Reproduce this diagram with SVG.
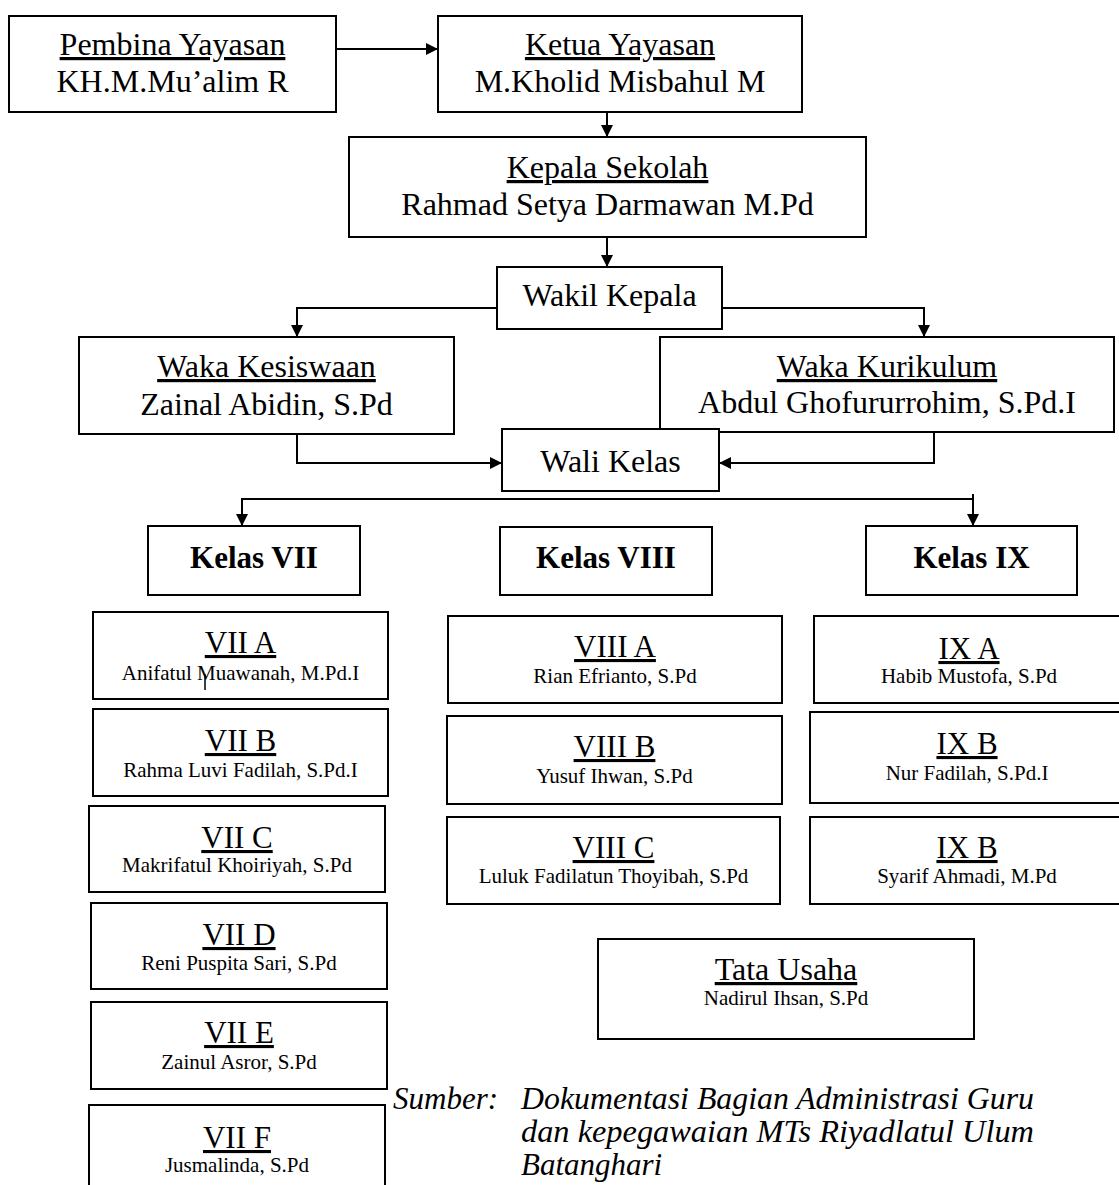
<svg xmlns="http://www.w3.org/2000/svg" width="1119" height="1185" viewBox="0 0 1119 1185">
<style>
text{font-family:"Liberation Serif","Times New Roman",serif;fill:#000;text-anchor:middle}
.box{fill:#fff;stroke:#000;stroke-width:2}
.t32{font-size:32px}
.h31{font-size:31px}
.u{text-decoration:underline}
.n21{font-size:21px}
.b{font-size:31px;font-weight:bold}
.c{fill:none;stroke:#000;stroke-width:2}
.src{font-size:31px;font-style:italic;text-anchor:start}
</style>
<defs>
<marker id="ah" viewBox="0 0 10 10" refX="10" refY="5" markerWidth="13" markerHeight="12" markerUnits="userSpaceOnUse" orient="auto">
<path d="M0,0 L10,5 L0,10 z" fill="#000"/>
</marker>
</defs>
<rect width="1119" height="1185" fill="#fff"/>

<g id="connectors">
<line class="c" x1="336" y1="49" x2="438" y2="49" marker-end="url(#ah)"/>
<line class="c" x1="607" y1="112" x2="607" y2="137" marker-end="url(#ah)"/>
<line class="c" x1="607" y1="237" x2="607" y2="267" marker-end="url(#ah)"/>
<polyline class="c" points="497,308 297,308 297,337" marker-end="url(#ah)"/>
<polyline class="c" points="722,308 924,308 924,337" marker-end="url(#ah)"/>
<polyline class="c" points="297,434 297,463 502,463" marker-end="url(#ah)"/>
<polyline class="c" points="934,432 934,463 719,463" marker-end="url(#ah)"/>
<line class="c" x1="241" y1="499" x2="973" y2="499"/>
<line class="c" x1="242" y1="499" x2="242" y2="526" marker-end="url(#ah)"/>
<line class="c" x1="973" y1="494" x2="973" y2="526" marker-end="url(#ah)"/>
</g>

<g id="pembina">
<rect class="box" x="9" y="16" width="327" height="96"/>
<text class="t32 u" x="172.5" y="55">Pembina Yayasan</text>
<text class="t32" x="172.5" y="92">KH.M.Mu’alim R</text>
</g>
<g id="ketua">
<rect class="box" x="438" y="16" width="364" height="96"/>
<text class="t32 u" x="620" y="55">Ketua Yayasan</text>
<text class="t32" x="620" y="92">M.Kholid Misbahul M</text>
</g>
<g id="kepala">
<rect class="box" x="349" y="137" width="517" height="100"/>
<text class="t32 u" x="607.5" y="178">Kepala Sekolah</text>
<text class="t32" x="607.5" y="215">Rahmad Setya Darmawan M.Pd</text>
</g>
<g id="wakil">
<rect class="box" x="497" y="267" width="225" height="62"/>
<text class="t32" x="609.5" y="306">Wakil Kepala</text>
</g>
<g id="kesiswaan">
<rect class="box" x="79" y="337" width="375" height="97"/>
<text class="t32 u" x="266.5" y="377">Waka Kesiswaan</text>
<text class="t32" x="266.5" y="415">Zainal Abidin, S.Pd</text>
</g>
<g id="kurikulum">
<rect class="box" x="660" y="337" width="454" height="95"/>
<text class="t32 u" x="887" y="377">Waka Kurikulum</text>
<text class="t32" x="887" y="413">Abdul Ghofururrohim, S.Pd.I</text>
</g>
<g id="walikelas">
<rect class="box" x="502" y="429" width="217" height="62"/>
<text class="t32" x="610.5" y="472">Wali Kelas</text>
</g>

<g id="kelas7">
<rect class="box" x="148" y="526" width="212" height="69"/>
<text class="b" x="254" y="568">Kelas VII</text>
</g>
<g id="kelas8">
<rect class="box" x="500" y="527" width="212" height="68"/>
<text class="b" x="606" y="568">Kelas VIII</text>
</g>
<g id="kelas9">
<rect class="box" x="866" y="526" width="211" height="69"/>
<text class="b" x="971.5" y="568">Kelas IX</text>
</g>

<g id="vii-a">
<rect class="box" x="93" y="612" width="295" height="87"/>
<text class="h31 u" x="240.5" y="653">VII A</text>
<text class="n21" x="240.5" y="680">Anifatul Muawanah, M.Pd.I</text>
<line x1="205" y1="674" x2="205" y2="690" stroke="#000" stroke-width="1.5"/>
</g>
<g id="vii-b">
<rect class="box" x="93" y="709" width="295" height="87"/>
<text class="h31 u" x="240.5" y="751">VII B</text>
<text class="n21" x="240.5" y="777">Rahma Luvi Fadilah, S.Pd.I</text>
</g>
<g id="vii-c">
<rect class="box" x="89" y="806" width="296" height="86"/>
<text class="h31 u" x="237" y="848">VII C</text>
<text class="n21" x="237" y="872">Makrifatul Khoiriyah, S.Pd</text>
</g>
<g id="vii-d">
<rect class="box" x="91" y="903" width="296" height="86"/>
<text class="h31 u" x="239" y="945">VII D</text>
<text class="n21" x="239" y="970">Reni Puspita Sari, S.Pd</text>
</g>
<g id="vii-e">
<rect class="box" x="91" y="1002" width="296" height="87"/>
<text class="h31 u" x="239" y="1043">VII E</text>
<text class="n21" x="239" y="1069">Zainul Asror, S.Pd</text>
</g>
<g id="vii-f">
<rect class="box" x="89" y="1105" width="296" height="95"/>
<text class="h31 u" x="237" y="1148">VII F</text>
<text class="n21" x="237" y="1172">Jusmalinda, S.Pd</text>
</g>

<g id="viii-a">
<rect class="box" x="448" y="616" width="334" height="87"/>
<text class="h31 u" x="615" y="657">VIII A</text>
<text class="n21" x="615" y="683">Rian Efrianto, S.Pd</text>
</g>
<g id="viii-b">
<rect class="box" x="447" y="716" width="335" height="88"/>
<text class="h31 u" x="614.5" y="757">VIII B</text>
<text class="n21" x="614.5" y="783">Yusuf Ihwan, S.Pd</text>
</g>
<g id="viii-c">
<rect class="box" x="447" y="817" width="333" height="87"/>
<text class="h31 u" x="613.5" y="858">VIII C</text>
<text class="n21" x="613.5" y="883">Luluk Fadilatun Thoyibah, S.Pd</text>
</g>

<g id="ix-a">
<rect class="box" x="814" y="616" width="310" height="87"/>
<text class="h31 u" x="969" y="659">IX A</text>
<text class="n21" x="969" y="683">Habib Mustofa, S.Pd</text>
</g>
<g id="ix-b">
<rect class="box" x="810" y="712" width="314" height="91"/>
<text class="h31 u" x="967" y="754">IX B</text>
<text class="n21" x="967" y="780">Nur Fadilah, S.Pd.I</text>
</g>
<g id="ix-b2">
<rect class="box" x="810" y="817" width="314" height="87"/>
<text class="h31 u" x="967" y="858">IX B</text>
<text class="n21" x="967" y="883">Syarif Ahmadi, M.Pd</text>
</g>

<g id="tata-usaha">
<rect class="box" x="598" y="939" width="376" height="100"/>
<text class="t32 u" x="786" y="980">Tata Usaha</text>
<text class="n21" x="786" y="1005">Nadirul Ihsan, S.Pd</text>
</g>

<g id="sumber">
<text class="src" x="393" y="1109">Sumber:</text>
<text class="src" x="521" y="1109" textLength="513" lengthAdjust="spacingAndGlyphs">Dokumentasi Bagian Administrasi Guru</text>
<text class="src" x="521" y="1142" textLength="513" lengthAdjust="spacingAndGlyphs">dan kepegawaian MTs Riyadlatul Ulum</text>
<text class="src" x="521" y="1175">Batanghari</text>
</g>
</svg>
